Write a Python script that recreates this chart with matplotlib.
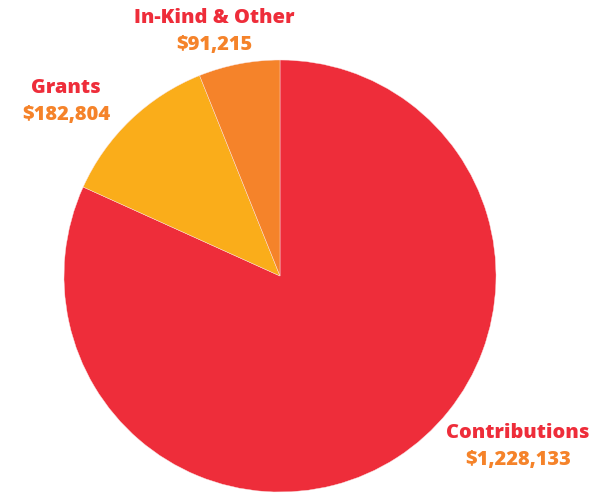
import matplotlib
matplotlib.use("Agg")
import matplotlib.pyplot as plt

categories = ["Contributions", "Grants", "In-Kind & Other"]
values = [1228133, 182804, 91215]
value_labels = ["$1,228,133", "$182,804", "$91,215"]
colors = ["#EE2D3A", "#FAAD1A", "#F5832A"]

W, H = 592, 493
fig = plt.figure(figsize=(W / 100, H / 100), dpi=100)
cx, cy, r = 280, 276, 216
ax = fig.add_axes([(cx - r) / W, (H - cy - r) / H, 2 * r / W, 2 * r / H])
ax.pie(values, colors=colors, startangle=90, counterclock=False, radius=1,
       wedgeprops=dict(linewidth=0.3, edgecolor="#FBE3E3"))
ax.set_xlim(-1, 1)
ax.set_ylim(-1, 1)
ax.set_aspect("equal")
ax.axis("off")

label_pos = {"Contributions": (518, 433, 460), "Grants": (66, 88, 115), "In-Kind & Other": (214, 18, 45)}
for cat, vl in zip(categories, value_labels):
    x, y1, y2 = label_pos[cat]
    fig.text(x / W, 1 - y1 / H, cat, ha="center", va="center", color="#EE2D3A",
             fontsize=14.4, fontweight="heavy", family="Open Sans")
    fig.text(x / W, 1 - y2 / H, vl, ha="center", va="center", color="#F5832A",
             fontsize=14.4, fontweight="heavy", family="Open Sans")

fig.savefig("out.png", dpi=100)
